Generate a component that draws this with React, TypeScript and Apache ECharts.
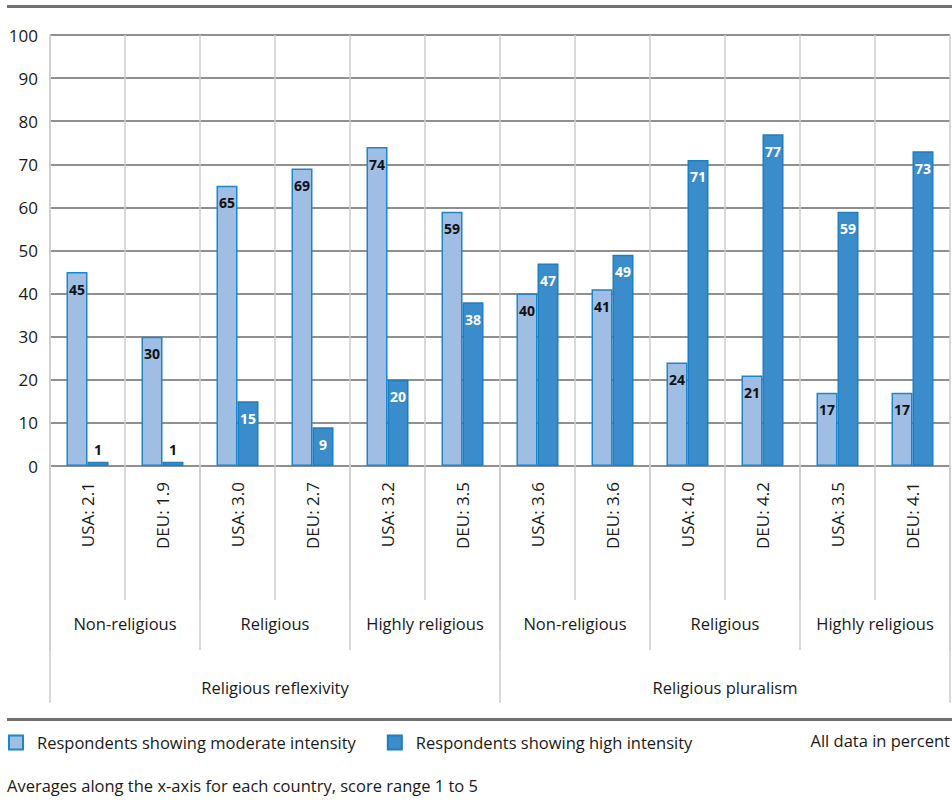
import React, { useEffect, useRef } from "react";
import * as echarts from "echarts";

const categories = ["USA: 2.1", "DEU: 1.9", "USA: 3.0", "DEU: 2.7", "USA: 3.2", "DEU: 3.5", "USA: 3.6", "DEU: 3.6", "USA: 4.0", "DEU: 4.2", "USA: 3.5", "DEU: 4.1"];
const moderate = [45, 30, 65, 69, 74, 59, 40, 41, 24, 21, 17, 17];
const high = [1, 1, 15, 9, 20, 38, 47, 49, 71, 77, 59, 73];
const groups = ["Non-religious", "Religious", "Highly religious", "Non-religious", "Religious", "Highly religious"];
const superGroups = ["Religious reflexivity", "Religious pluralism"];
const yTicks = { min: 0, max: 100, interval: 10 };
const seriesNames = ["Respondents showing moderate intensity", "Respondents showing high intensity"];

const FONT = "'Open Sans', 'Noto Sans', sans-serif";

export default function App() {
  const ref = useRef<HTMLDivElement>(null);
  useEffect(() => {
    document.body.style.margin = "0";
    const chart = echarts.init(ref.current!, null, { renderer: "svg" });
    const mkData = (vals: number[], inside: string) =>
      vals.map((v) =>
        v < 5
          ? { value: v, label: { position: "top", distance: 5, color: "#111" } }
          : { value: v, label: { position: "insideTop", distance: 10, color: inside } }
      );
    const sepColor = "#cccccc";
    const option: any = {
      animation: false,
      textStyle: { fontFamily: FONT },
      grid: { left: 50, right: 2, top: 35, bottom: 341, containLabel: false },
      xAxis: [
        {
          type: "category",
          data: categories,
          position: "bottom",
          axisLine: { show: false },
          axisTick: { show: true, interval: 0, length: 134, lineStyle: { color: sepColor, width: 1.5 } },
          splitLine: { show: true, interval: 0, lineStyle: { color: sepColor, width: 1.5 } },
          axisLabel: { interval: 0, rotate: 90, margin: 16, fontSize: 17, color: "#1a1a1a", fontFamily: FONT },
        },
        {
          type: "category",
          data: groups,
          position: "bottom",
          axisLine: { show: false },
          axisTick: { show: true, interval: 0, length: 184, lineStyle: { color: sepColor, width: 1.5 } },
          splitLine: { show: false },
          axisLabel: { interval: 0, margin: 149, fontSize: 16.5, color: "#1a1a1a", fontFamily: FONT },
        },
        {
          type: "category",
          data: superGroups,
          position: "bottom",
          axisLine: { show: false },
          axisTick: { show: true, interval: 0, length: 237, lineStyle: { color: sepColor, width: 1.5 } },
          splitLine: { show: false },
          axisLabel: { interval: 0, margin: 213, fontSize: 16.5, color: "#1a1a1a", fontFamily: FONT },
        },
      ],
      yAxis: {
        type: "value",
        min: yTicks.min,
        max: yTicks.max,
        interval: yTicks.interval,
        axisLine: { show: true, lineStyle: { color: sepColor, width: 1.5 } },
        axisTick: { show: false },
        splitLine: { show: true, lineStyle: { color: "#6b6b6b", width: 1.5 } },
        axisLabel: { margin: 12, fontSize: 17, color: "#1a1a1a", fontFamily: FONT },
      },
      legend: {
        left: 8,
        top: 734,
        padding: 0,
        itemWidth: 14,
        itemHeight: 14,
        itemGap: 31,
        icon: "rect",
        textStyle: { fontSize: 16.5, color: "#1a1a1a", fontFamily: FONT, padding: [0, 0, 0, 9] },
        data: seriesNames,
      },
      series: [
        {
          name: seriesNames[0],
          type: "bar",
          xAxisIndex: 0,
          data: mkData(moderate, "#111"),
          barWidth: 21,
          barGap: "0%",
          itemStyle: { color: "#a0bde3", borderColor: "#1a86cc", borderWidth: 1.5 },
          label: { show: true, fontSize: 14, fontWeight: "bold", fontFamily: FONT },
        },
        {
          name: seriesNames[1],
          type: "bar",
          xAxisIndex: 0,
          data: mkData(high, "#ffffff"),
          barWidth: 21,
          barGap: "0%",
          itemStyle: { color: "#3a8ccb", borderColor: "#1d7fc2", borderWidth: 1.5 },
          label: { show: true, fontSize: 14, fontWeight: "bold", fontFamily: FONT },
        },
      ],
      graphic: [
        { type: "rect", left: 7, top: 5, shape: { width: 945, height: 3 }, style: { fill: "#707070" } },
        { type: "rect", left: 7, top: 718, shape: { width: 945, height: 3 }, style: { fill: "#707070" } },
        {
          type: "text",
          right: 2,
          top: 732,
          style: { text: "All data in percent", fontSize: 16.5, fill: "#1a1a1a", fontFamily: FONT },
        },
        {
          type: "text",
          left: 7,
          top: 777,
          style: { text: "Averages along the x-axis for each country, score range 1 to 5", fontSize: 16.5, fill: "#1a1a1a", fontFamily: FONT },
        },
      ],
    };
    chart.setOption(option);
    return () => chart.dispose();
  }, []);
  return <div ref={ref} style={{ width: 952, height: 807 }} />;
}
